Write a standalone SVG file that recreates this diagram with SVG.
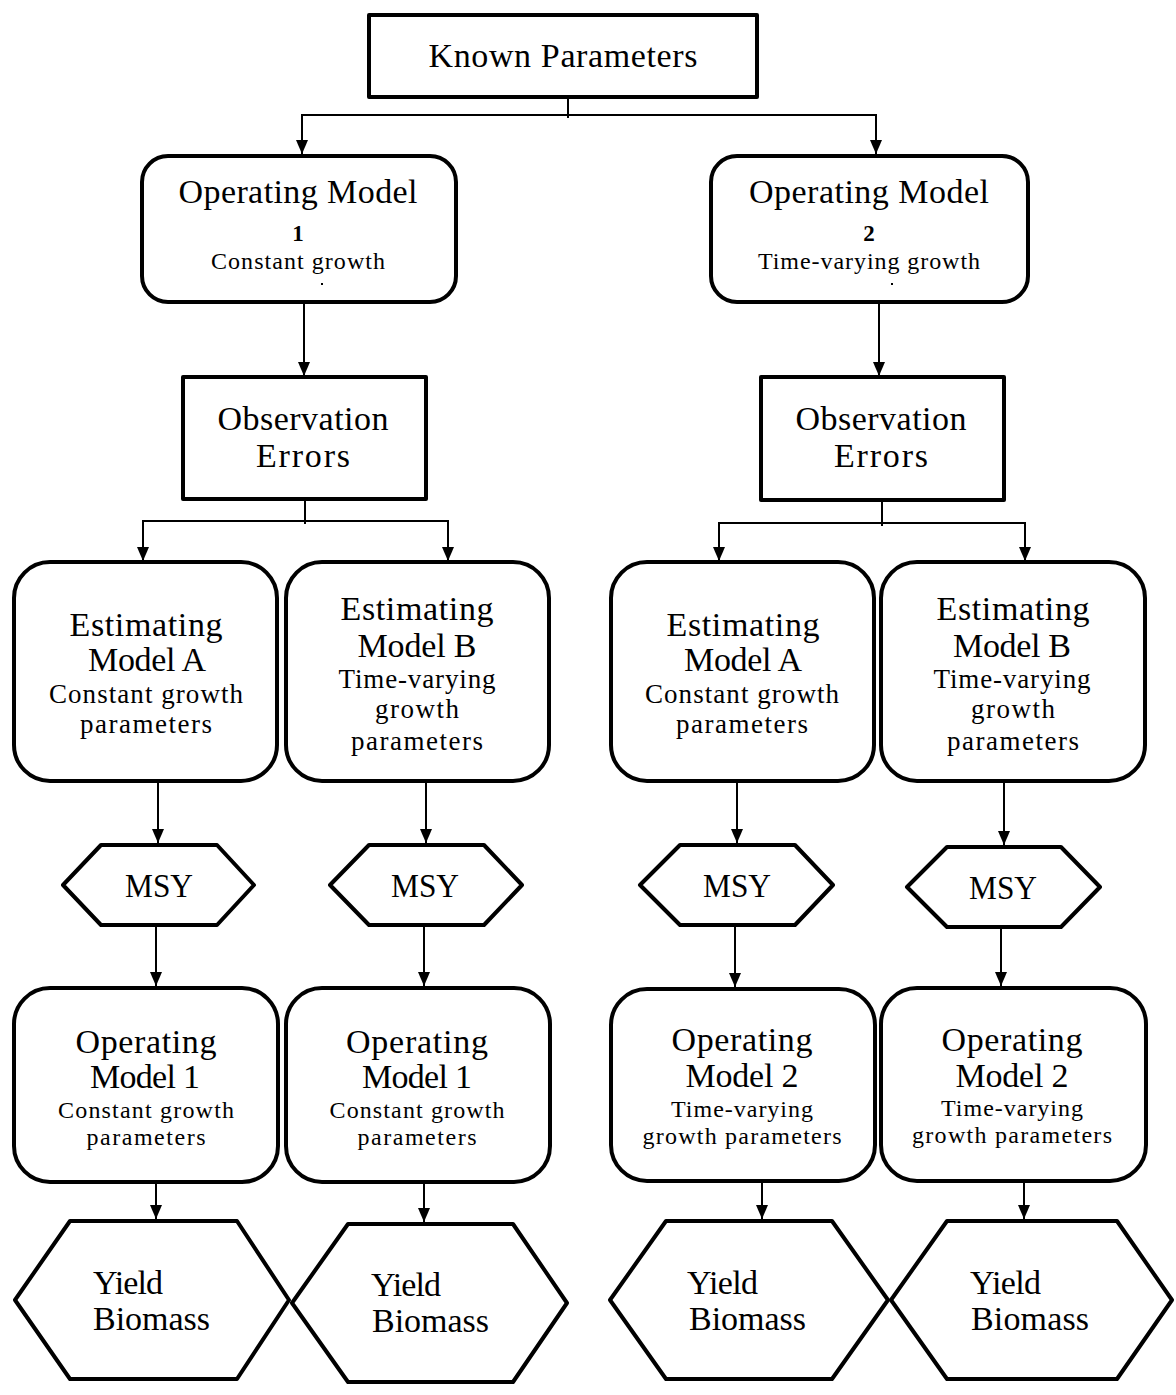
<svg xmlns="http://www.w3.org/2000/svg" width="1176" height="1395" viewBox="0 0 1176 1395">
<style>
.n{fill:#fff;stroke:#000;stroke-width:4;stroke-linejoin:round}
.t{font-family:"Liberation Serif","Times New Roman",serif;fill:#000;text-anchor:middle}
.l{text-anchor:start}
.L{font-size:34px}
.M{font-size:27px}
.S{font-size:24px}
.d{font-size:23px;font-weight:bold}
.c{fill:none;stroke:#000;stroke-width:2}
.a{marker-end:url(#ah)}
</style>
<defs>
<marker id="ah" viewBox="0 0 14 12" refX="14" refY="6" markerWidth="14" markerHeight="12" markerUnits="userSpaceOnUse" orient="auto"><path d="M0,0L14,6L0,12z" fill="#000"/></marker>
</defs>
<rect x="0" y="0" width="1176" height="1395" fill="#fff"/>

<g id="connectors">
<path class="c" d="M568,97V118"/>
<path class="c a" d="M568,115H302V154"/>
<path class="c a" d="M568,115H876V154"/>
<path class="c a" d="M304,299V376"/>
<path class="c a" d="M879,299V376"/>
<path class="c" d="M305,499V524"/>
<path class="c a" d="M305,521H143V561"/>
<path class="c a" d="M305,521H448V561"/>
<path class="c" d="M882,500V526"/>
<path class="c a" d="M882,523H719V561"/>
<path class="c a" d="M882,523H1025V561"/>
<path class="c a" d="M158,782V843"/>
<path class="c a" d="M426,782V843"/>
<path class="c a" d="M737,782V843"/>
<path class="c a" d="M1004,782V845"/>
<path class="c a" d="M156,925V986"/>
<path class="c a" d="M424,925V986"/>
<path class="c a" d="M735,925V987"/>
<path class="c a" d="M1001,927V986"/>
<path class="c a" d="M156,1180V1219"/>
<path class="c a" d="M424,1180V1222"/>
<path class="c a" d="M762,1181V1219"/>
<path class="c a" d="M1024,1181V1219"/>
</g>

<g id="known">
<rect class="n" x="369" y="15" width="388" height="82"/>
<text class="t L" x="563" y="67" textLength="269" lengthAdjust="spacing">Known Parameters</text>
</g>

<g id="om1">
<rect class="n" x="142" y="156" width="314" height="146" rx="26"/>
<text class="t L" x="298" y="203" textLength="239" lengthAdjust="spacing">Operating Model</text>
<text class="t d" x="298" y="241">1</text>
<text class="t S" x="298" y="269" textLength="174" lengthAdjust="spacing">Constant growth</text>
<rect x="321" y="283" width="2" height="2" fill="#000"/>
</g>

<g id="om2">
<rect class="n" x="711" y="156" width="317" height="146" rx="26"/>
<text class="t L" x="869" y="203" textLength="240" lengthAdjust="spacing">Operating Model</text>
<text class="t d" x="869" y="241">2</text>
<text class="t S" x="869" y="269" textLength="222" lengthAdjust="spacing">Time-varying growth</text>
<rect x="891" y="283" width="2" height="2" fill="#000"/>
</g>

<g id="obs1">
<rect class="n" x="183" y="377" width="243" height="122"/>
<text class="t L" x="303" y="430" textLength="171" lengthAdjust="spacing">Observation</text>
<text class="t L" x="303" y="467" textLength="94" lengthAdjust="spacing">Errors</text>
</g>

<g id="obs2">
<rect class="n" x="761" y="377" width="243" height="123"/>
<text class="t L" x="881" y="430" textLength="171" lengthAdjust="spacing">Observation</text>
<text class="t L" x="881" y="467" textLength="94" lengthAdjust="spacing">Errors</text>
</g>

<g id="estA1">
<rect class="n" x="14" y="562" width="263" height="219" rx="36"/>
<text class="t L" x="146" y="636" textLength="153" lengthAdjust="spacing">Estimating</text>
<text class="t L" x="147" y="671" textLength="118" lengthAdjust="spacing">Model A</text>
<text class="t M" x="146" y="703" textLength="194" lengthAdjust="spacing">Constant growth</text>
<text class="t M" x="146" y="733" textLength="132" lengthAdjust="spacing">parameters</text>
</g>

<g id="estB1">
<rect class="n" x="286" y="562" width="263" height="219" rx="36"/>
<text class="t L" x="417" y="620" textLength="153" lengthAdjust="spacing">Estimating</text>
<text class="t L" x="417" y="657" textLength="119" lengthAdjust="spacing">Model B</text>
<text class="t M" x="417" y="688" textLength="157" lengthAdjust="spacing">Time-varying</text>
<text class="t M" x="417" y="718" textLength="84" lengthAdjust="spacing">growth</text>
<text class="t M" x="417" y="750" textLength="132" lengthAdjust="spacing">parameters</text>
</g>

<g id="estA2">
<rect class="n" x="611" y="562" width="263" height="219" rx="36"/>
<text class="t L" x="743" y="636" textLength="153" lengthAdjust="spacing">Estimating</text>
<text class="t L" x="743" y="671" textLength="118" lengthAdjust="spacing">Model A</text>
<text class="t M" x="742" y="703" textLength="194" lengthAdjust="spacing">Constant growth</text>
<text class="t M" x="742" y="733" textLength="132" lengthAdjust="spacing">parameters</text>
</g>

<g id="estB2">
<rect class="n" x="881" y="562" width="264" height="219" rx="36"/>
<text class="t L" x="1013" y="620" textLength="153" lengthAdjust="spacing">Estimating</text>
<text class="t L" x="1012" y="657" textLength="118" lengthAdjust="spacing">Model B</text>
<text class="t M" x="1012" y="688" textLength="157" lengthAdjust="spacing">Time-varying</text>
<text class="t M" x="1013" y="718" textLength="84" lengthAdjust="spacing">growth</text>
<text class="t M" x="1013" y="750" textLength="132" lengthAdjust="spacing">parameters</text>
</g>

<g id="msyA1">
<polygon class="n" points="63,885 101,845 217,845 254,885 217,925 101,925"/>
<text class="t L" x="159" y="897" textLength="68" lengthAdjust="spacingAndGlyphs">MSY</text>
</g>
<g id="msyB1">
<polygon class="n" points="330,885 369,845 484,845 522,885 484,925 369,925"/>
<text class="t L" x="425" y="897" textLength="68" lengthAdjust="spacingAndGlyphs">MSY</text>
</g>
<g id="msyA2">
<polygon class="n" points="640,885 680,845 795,845 833,885 795,925 680,925"/>
<text class="t L" x="737" y="897" textLength="68" lengthAdjust="spacingAndGlyphs">MSY</text>
</g>
<g id="msyB2">
<polygon class="n" points="907,887 947,847 1061,847 1100,887 1061,927 947,927"/>
<text class="t L" x="1003" y="899" textLength="68" lengthAdjust="spacingAndGlyphs">MSY</text>
</g>

<g id="omA1">
<rect class="n" x="14" y="988" width="264" height="194" rx="36"/>
<text class="t L" x="146" y="1053" textLength="141" lengthAdjust="spacing">Operating</text>
<text class="t L" x="145" y="1088" textLength="110" lengthAdjust="spacing">Model 1</text>
<text class="t S" x="146" y="1118" textLength="176" lengthAdjust="spacing">Constant growth</text>
<text class="t S" x="146" y="1145" textLength="119" lengthAdjust="spacing">parameters</text>
</g>

<g id="omB1">
<rect class="n" x="286" y="988" width="264" height="194" rx="36"/>
<text class="t L" x="417" y="1053" textLength="142" lengthAdjust="spacing">Operating</text>
<text class="t L" x="417" y="1088" textLength="110" lengthAdjust="spacing">Model 1</text>
<text class="t S" x="417" y="1118" textLength="175" lengthAdjust="spacing">Constant growth</text>
<text class="t S" x="417" y="1145" textLength="119" lengthAdjust="spacing">parameters</text>
</g>

<g id="omA2">
<rect class="n" x="611" y="989" width="264" height="192" rx="36"/>
<text class="t L" x="742" y="1051" textLength="141" lengthAdjust="spacing">Operating</text>
<text class="t L" x="742" y="1087" textLength="113" lengthAdjust="spacing">Model 2</text>
<text class="t S" x="742" y="1117" textLength="142" lengthAdjust="spacing">Time-varying</text>
<text class="t S" x="742" y="1144" textLength="199" lengthAdjust="spacing">growth parameters</text>
</g>

<g id="omB2">
<rect class="n" x="881" y="988" width="265" height="193" rx="36"/>
<text class="t L" x="1012" y="1051" textLength="141" lengthAdjust="spacing">Operating</text>
<text class="t L" x="1012" y="1087" textLength="113" lengthAdjust="spacing">Model 2</text>
<text class="t S" x="1012" y="1116" textLength="142" lengthAdjust="spacing">Time-varying</text>
<text class="t S" x="1012" y="1143" textLength="200" lengthAdjust="spacing">growth parameters</text>
</g>

<g id="yield1">
<polygon class="n" points="15,1300 70,1221 237,1221 289,1300 237,1379 70,1379"/>
<text class="t L l" x="93" y="1294" textLength="70" lengthAdjust="spacing">Yield</text>
<text class="t L l" x="93" y="1330" textLength="117" lengthAdjust="spacing">Biomass</text>
</g>
<g id="yield2">
<polygon class="n" points="292,1303 348,1224 513,1224 567,1303 513,1382 348,1382"/>
<text class="t L l" x="371" y="1296" textLength="70" lengthAdjust="spacing">Yield</text>
<text class="t L l" x="372" y="1332" textLength="117" lengthAdjust="spacing">Biomass</text>
</g>
<g id="yield3">
<polygon class="n" points="610,1300 666,1221 832,1221 888,1300 832,1379 666,1379"/>
<text class="t L l" x="687" y="1294" textLength="71" lengthAdjust="spacing">Yield</text>
<text class="t L l" x="689" y="1330" textLength="117" lengthAdjust="spacing">Biomass</text>
</g>
<g id="yield4">
<polygon class="n" points="891,1300 947,1221 1117,1221 1172,1300 1117,1379 947,1379"/>
<text class="t L l" x="970" y="1294" textLength="71" lengthAdjust="spacing">Yield</text>
<text class="t L l" x="971" y="1330" textLength="118" lengthAdjust="spacing">Biomass</text>
</g>
</svg>
